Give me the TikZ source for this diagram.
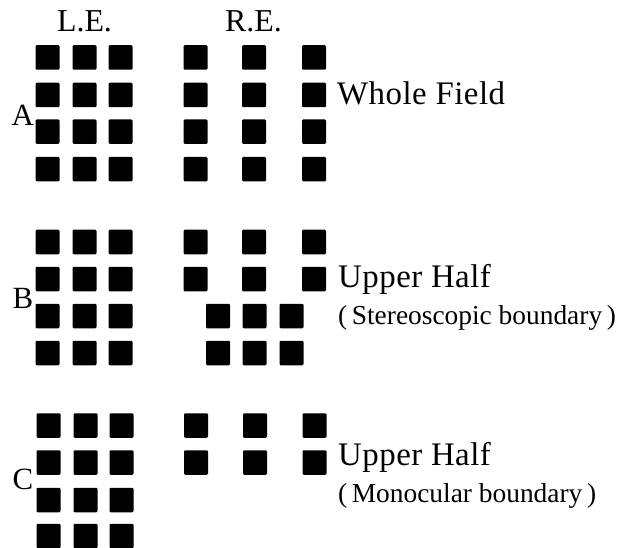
\documentclass[tikz,border=0pt]{standalone}
\usepackage{fontspec}
\setmainfont{Liberation Serif}
\begin{document}
\begin{tikzpicture}[x=1bp,y=-1bp,
  sq/.style={fill=black, draw=none, minimum width=24bp, minimum height=24.5bp, inner sep=0pt, rounded corners=1.2bp},
  lab/.style={inner sep=0pt, anchor=base west, font=\fontsize{33}{38}\selectfont\addfontfeatures{LetterSpace=1.5}},
  let/.style={inner sep=0pt, anchor=base west, font=\fontsize{31}{36}\selectfont},
  hdr/.style={inner sep=0pt, anchor=base, font=\fontsize{32}{36}\selectfont},
  sub/.style={inner sep=0pt, anchor=base west, font=\fontsize{27.5}{32}\selectfont}]
\useasboundingbox (0,0) rectangle (631,548);
% headers
\node[hdr] (le) at (84.5,32) {L.E.};
\node[hdr] (re) at (253.5,32) {R.E.};
% ---------- A ----------
\foreach \r/\y in {1/57.5,2/95,3/131.7,4/169.2}{
  \foreach \c/\x in {1/47.5,2/84.5,3/120.5}{
    \node[sq] (AL\r\c) at (\x,\y) {};
  }
  \foreach \c/\x in {1/195.5,2/254,3/314}{
    \node[sq] (AR\r\c) at (\x,\y) {};
  }
}
\node[let] (A) at (11.5,126) {A};
\node[lab] (wf) at (337,105) {Whole Field};
% ---------- B ----------
\foreach \r/\y in {1/242,2/279,3/316,4/353}{
  \foreach \c/\x in {1/47.5,2/84.5,3/120.5}{
    \node[sq] (BL\r\c) at (\x,\y) {};
  }
}
\foreach \r/\y in {1/242,2/279}{
  \foreach \c/\x in {1/195.5,2/254,3/314}{
    \node[sq] (BR\r\c) at (\x,\y) {};
  }
}
\foreach \r/\y in {3/316,4/353}{
  \foreach \c/\x in {1/218,2/254.5,3/291.5}{
    \node[sq] (BR\r\c) at (\x,\y) {};
  }
}
\node[let] (B) at (12.5,308) {B};
\node[lab] (uh1) at (338,287) {Upper Half};
\node[sub] (st) at (338,324) {(\,Stereoscopic boundary\,)};
% ---------- C ----------
\foreach \r/\y in {1/425.5,2/462.5,3/500,4/536}{
  \foreach \c/\x in {1/48.5,2/85.5,3/121.5}{
    \node[sq] (CL\r\c) at (\x,\y) {};
  }
}
\foreach \r/\y in {1/425.5,2/462.5}{
  \foreach \c/\x in {1/196,2/255,3/314.5}{
    \node[sq] (CR\r\c) at (\x,\y) {};
  }
}
\node[let] (C) at (12.5,489) {C};
\node[lab] (uh2) at (338,465) {Upper Half};
\node[sub] (mo) at (338,502) {(\,Monocular boundary\,)};
\end{tikzpicture}
\end{document}
